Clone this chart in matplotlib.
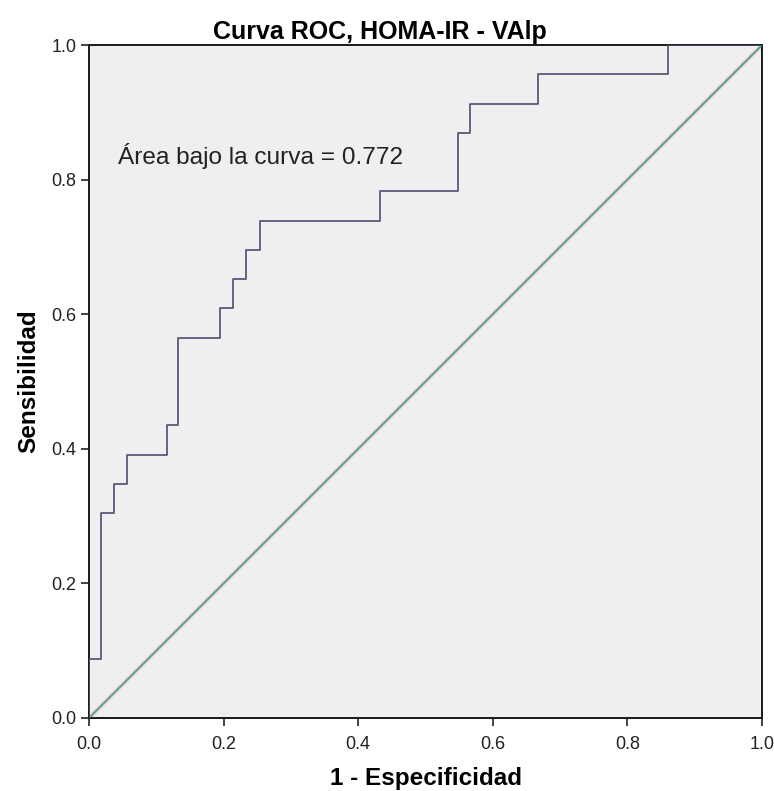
import matplotlib
matplotlib.use("Agg")
import matplotlib.pyplot as plt

# ROC step points (1 - especificidad, sensibilidad)
fpr = [0.0, 0.0, 0.018, 0.018, 0.037, 0.037, 0.056, 0.056, 0.116, 0.116,
       0.132, 0.132, 0.195, 0.195, 0.214, 0.214, 0.233, 0.233, 0.254, 0.254,
       0.432, 0.432, 0.548, 0.548, 0.566, 0.566, 0.667, 0.667, 0.860, 0.860, 1.0]
tpr = [0.0, 0.087, 0.087, 0.304, 0.304, 0.348, 0.348, 0.391, 0.391, 0.435,
       0.435, 0.565, 0.565, 0.609, 0.609, 0.652, 0.652, 0.696, 0.696, 0.739,
       0.739, 0.783, 0.783, 0.870, 0.870, 0.913, 0.913, 0.957, 0.957, 1.0, 1.0]
ref_line = [0.0, 1.0]
ticks = [0.0, 0.2, 0.4, 0.6, 0.8, 1.0]
auc_text = "Área bajo la curva = 0.772"

plt.rcParams['font.family'] = ['Liberation Sans', 'DejaVu Sans']

fig = plt.figure(figsize=(7.74, 7.91), dpi=100)
ax = fig.add_axes([0.115, 0.0923, 0.8695, 0.8507])
ax.set_facecolor('#efefef')

ax.plot(ref_line, ref_line, color='#f4c6cc', lw=3, zorder=2)
ax.plot(ref_line, ref_line, color='#2aa58a', lw=1.1, zorder=3)
ax.plot(fpr, tpr, color='#4e4e72', lw=1.2, zorder=4)

ax.text(0.043, 0.835, auc_text, fontsize=17.6, color='#222222', va='center')

ax.set_xlim(0, 1)
ax.set_ylim(0, 1)
ax.set_xticks(ticks)
ax.set_yticks(ticks)
ax.set_xticklabels(["%.1f" % t for t in ticks])
ax.set_yticklabels(["%.1f" % t for t in ticks])
ax.tick_params(direction='out', length=6, width=1.2, labelsize=13,
               colors='#222222', pad=3)
ax.tick_params(axis='x', pad=7)
for s in ax.spines.values():
    s.set_linewidth(1.4)
    s.set_color('#1a1a1a')

ax.set_xlabel("1 - Especificidad", fontsize=17.5, fontweight='bold', labelpad=10)
ax.set_ylabel("Sensibilidad", fontsize=17.5, fontweight='bold', labelpad=8)
fig.text(0.491, 0.960, "Curva ROC, HOMA-IR - VAlp", fontsize=18,
         fontweight='bold', ha='center', va='center')

fig.savefig("out.png", dpi=100, facecolor='white')
